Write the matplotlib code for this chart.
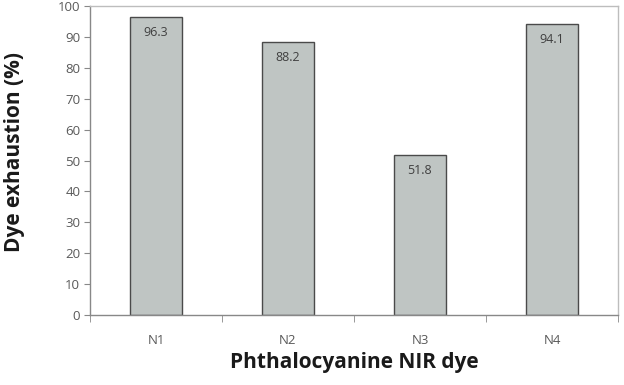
import matplotlib
matplotlib.use('Agg')
import matplotlib.pyplot as plt
import numpy as np

# Data
categories = ['N1', 'N2', 'N3', 'N4']
exhaustion = [96.3, 88.2, 51.8, 94.1]
y_ticks = [0, 10, 20, 30, 40, 50, 60, 70, 80, 90, 100]

plt.rcParams['font.family'] = ['Open Sans', 'DejaVu Sans']

fig = plt.figure(figsize=(6.24, 3.85), dpi=100)
ax = fig.add_axes([90 / 624, 1 - 315 / 385, 528 / 624, 309 / 385])

x = np.arange(len(categories))
bars = ax.bar(x, exhaustion, width=0.39, color='#bfc5c3', edgecolor='#4a4a4a', linewidth=1.0, zorder=2)

# value labels inside the top of each bar
for bar, val in zip(bars, exhaustion):
    ax.annotate(f'{val}', (bar.get_x() + bar.get_width() / 2, val),
                xytext=(0, -11), textcoords='offset points',
                ha='center', va='center', fontsize=9, color='#404040')

ax.set_xlim(-0.5, len(categories) - 0.5)
ax.set_ylim(0, 100)
ax.set_yticks(y_ticks)
ax.set_xticks(x)
ax.set_xticklabels(categories)
ax.set_xticks(np.arange(len(categories) + 1) - 0.5, minor=True)

ax.tick_params(axis='y', direction='out', length=4, color='#888888', labelsize=9.5, labelcolor='#595959', pad=3)
ax.tick_params(axis='x', which='major', length=0, labelsize=9.5, labelcolor='#595959', pad=14)
ax.tick_params(axis='x', which='minor', direction='out', length=5, color='#888888')

for side in ['left', 'bottom']:
    ax.spines[side].set_color('#888888')
    ax.spines[side].set_linewidth(1.0)
for side in ['top', 'right']:
    ax.spines[side].set_color('#bdbdbd')
    ax.spines[side].set_linewidth(1.0)

ax.set_xlabel('Phthalocyanine NIR dye', fontsize=15, fontweight='bold', color='#1a1a1a', labelpad=3)
ax.set_ylabel('Dye exhaustion (%)', fontsize=15, fontweight='bold', color='#1a1a1a')
ax.yaxis.set_label_coords(-0.123, 0.527)

fig.savefig('out.png', dpi=100)
